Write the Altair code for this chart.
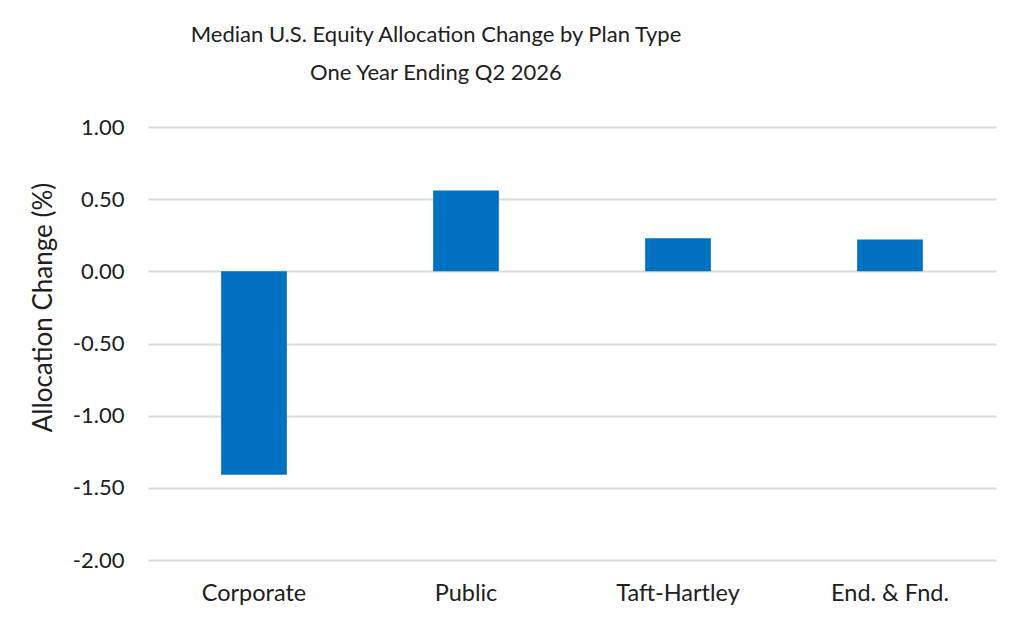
import altair as alt
import pandas as pd

plan_types = ["Corporate", "Public", "Taft-Hartley", "End. & Fnd."]
allocation_change = [-1.41, 0.56, 0.23, 0.22]
y_ticks = [1.0, 0.5, 0.0, -0.5, -1.0, -1.5, -2.0]
title_lines = ["Median U.S. Equity Allocation Change by Plan Type", "One Year Ending Q2 2026"]

df = pd.DataFrame({"plan": plan_types, "change": allocation_change})

FONT = "Lato"
TXT = "#202020"

chart = alt.Chart(df).mark_bar(color="#0070C0").encode(
    x=alt.X("plan:N", sort=plan_types,
            scale=alt.Scale(paddingInner=0.69, paddingOuter=0.345),
            axis=alt.Axis(title=None, labelAngle=0, domain=False, ticks=False,
                          labelFont=FONT, labelFontSize=23.5, labelColor=TXT,
                          labelPadding=21, grid=False)),
    y=alt.Y("change:Q", scale=alt.Scale(domain=[-2, 1], nice=False),
            axis=alt.Axis(title="Allocation Change (%)", values=y_ticks,
                          labelExpr="(datum.value < 0 ? '-' : '') + format(abs(datum.value), '.2f')",
                          domain=False, ticks=False, grid=True,
                          gridColor="#d9d9d9", gridWidth=1.8,
                          labelFont=FONT, labelFontSize=22, labelColor=TXT,
                          labelPadding=24,
                          titleFont=FONT, titleFontSize=26, titleColor=TXT,
                          titleFontWeight="normal", titleAngle=-90,
                          titleAlign="center", titleBaseline="alphabetic",
                          titleX=-97, titleY=180)),
).properties(
    width=848,
    height=433,
    title=alt.TitleParams(text=title_lines, font=FONT, fontSize=22, fontWeight="normal",
                          color=TXT, lineHeight=38, anchor="middle", dx=-136, offset=31),
    padding={"left": 140, "top": 119, "right": 20, "bottom": 60},
    autosize=alt.AutoSizeParams(type="none"),
    background="white",
).configure_view(stroke=None)

chart.save("out.html", embed_options={"renderer": "svg", "actions": False})
